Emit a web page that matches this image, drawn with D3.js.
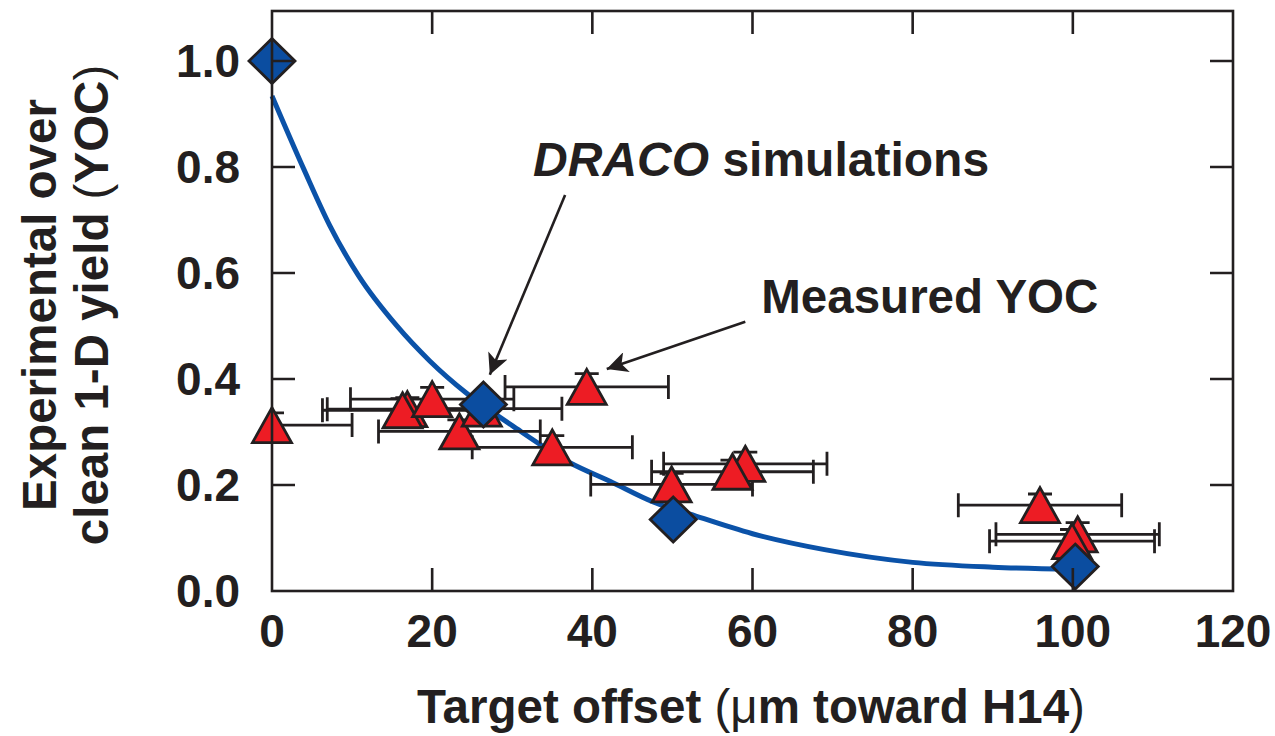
<!DOCTYPE html>
<html>
<head>
<meta charset="utf-8">
<script src="https://cdn.jsdelivr.net/npm/d3@7"></script>
<style>
  body { margin: 0; background: #fff; }
  text { font-family: "Liberation Sans", Arial, sans-serif; fill: #231f20; }
</style>
</head>
<body>
<div id="chart"></div>
<script>
// DRACO simulation points (diamonds)
const simX = [0, 26.4, 50.1, 100.3];
const simY = [1.0, 0.352, 0.135, 0.046];

// fitted curve through the simulations
const curveX = [0, 4, 7.2, 10.8, 15.6, 19.7, 24.3, 30, 37.2, 42.2, 47.6, 52.2, 60, 69, 80, 90, 100];
const curveY = [0.934, 0.795, 0.69, 0.595, 0.50, 0.434, 0.373, 0.312, 0.242, 0.207, 0.168, 0.145, 0.108, 0.078, 0.054, 0.045, 0.041];

// measured YOC (triangles), drawn in this order
const measX    = [0, 23.4, 26.2, 16.9, 16.3, 20.0, 35.0, 39.3, 49.9, 59.1, 57.5, 95.9, 100.6, 99.9];
const measY    = [0.313, 0.301, 0.344, 0.343, 0.341, 0.362, 0.271, 0.385, 0.201, 0.240, 0.225, 0.162, 0.107, 0.094];
const measXErr = [10, 10.1, 10, 10, 10, 10.2, 10, 10.2, 10.1, 10.2, 10.1, 10.2, 10.2, 10.3];
const measYErr = [0.023, 0.022, 0.022, 0.022, 0.022, 0.022, 0.022, 0.025, 0.021, 0.022, 0.022, 0.021, 0.022, 0.022];

const xTicks = [0, 20, 40, 60, 80, 100, 120];
const yTicks = [0, 0.2, 0.4, 0.6, 0.8, 1.0];

const W = 1275, H = 736;
const margin = { top: 11, right: 42, bottom: 145, left: 272 };
const ink = "#231f20";

const x = d3.scaleLinear().domain([0, 120]).range([margin.left, W - margin.right]);
const y = d3.scaleLinear().domain([0, 1.0943]).range([H - margin.bottom, margin.top]);

const svg = d3.select("#chart").append("svg")
    .attr("width", W)
    .attr("height", H);

const x0 = x(0), x1 = x(120), yb = y(0), yt = margin.top;

svg.append("defs").append("clipPath")
    .attr("id", "plot")
    .append("rect")
    .attr("x", x0).attr("y", yt)
    .attr("width", x1 - x0).attr("height", yb - yt);

// curve
const line = d3.line()
    .x((d, i) => x(curveX[i]))
    .y((d, i) => y(curveY[i]))
    .curve(d3.curveMonotoneX);

svg.append("path")
    .datum(curveX)
    .attr("fill", "none")
    .attr("stroke", "#0b52a8")
    .attr("stroke-width", 5)
    .attr("d", line);

// error bars
const meas = measX.map((v, i) => ({ x: v, y: measY[i], ex: measXErr[i], ey: measYErr[i] }));
const eb = svg.append("g")
    .attr("clip-path", "url(#plot)")
    .attr("stroke", ink)
    .attr("stroke-width", 2.8)
    .attr("fill", "none");

meas.forEach(d => {
    const cx = x(d.x), cy = y(d.y);
    const ex0 = x(d.x - d.ex), ex1 = x(d.x + d.ex);
    const ey0 = y(d.y - d.ey), ey1 = y(d.y + d.ey);
    eb.append("path").attr("d",
        `M${ex0},${cy}H${ex1}M${ex0},${cy - 12}V${cy + 12}M${ex1},${cy - 12}V${cy + 12}` +
        `M${cx},${ey0}V${ey1}M${cx - 12},${ey1}H${cx + 12}M${cx - 12},${ey0}H${cx + 12}`);
});

// triangles
svg.append("g").selectAll("path")
    .data(meas)
    .enter()
    .append("path")
    .attr("d", "M0,-17.5L19.5,17.5L-19.5,17.5Z")
    .attr("transform", d => `translate(${x(d.x)},${y(d.y)})`)
    .attr("fill", "#ed1c24")
    .attr("stroke", ink)
    .attr("stroke-width", 2.8)
    .attr("stroke-linejoin", "miter");

// diamonds
svg.append("g").selectAll("path")
    .data(simX)
    .enter()
    .append("path")
    .attr("d", "M0,-22.5L23,0L0,22.5L-23,0Z")
    .attr("transform", (d, i) => `translate(${x(d)},${y(simY[i])})`)
    .attr("fill", "#0b4da0")
    .attr("stroke", ink)
    .attr("stroke-width", 2.8);

// frame and inward ticks on all four sides
const axes = svg.append("g").attr("stroke", ink).attr("stroke-width", 2.6).attr("fill", "none");
axes.append("rect")
    .attr("x", x0).attr("y", yt)
    .attr("width", x1 - x0).attr("height", yb - yt);
const tl = 23;
xTicks.slice(1, -1).forEach(t => {
    axes.append("path").attr("d", `M${x(t)},${yb}V${yb - tl}M${x(t)},${yt}V${yt + tl}`);
});
yTicks.slice(1).forEach(t => {
    axes.append("path").attr("d", `M${x0},${y(t)}H${x0 + tl}M${x1},${y(t)}H${x1 - tl}`);
});

// tick labels
svg.append("g").selectAll("text")
    .data(xTicks)
    .enter()
    .append("text")
    .attr("x", d => x(d))
    .attr("y", yb + 56)
    .attr("text-anchor", "middle")
    .attr("font-size", 46)
    .attr("font-weight", "bold")
    .text(d => d);

svg.append("g").selectAll("text")
    .data(yTicks)
    .enter()
    .append("text")
    .attr("x", x0 - 32)
    .attr("y", d => y(d) + 16)
    .attr("text-anchor", "end")
    .attr("font-size", 46)
    .attr("font-weight", "bold")
    .text(d => d.toFixed(1));

// axis titles
const xt = svg.append("text")
    .attr("x", 751)
    .attr("y", 723)
    .attr("text-anchor", "middle")
    .attr("font-size", 47.5)
    .attr("font-weight", "bold");
xt.append("tspan").text("Target offset ");
xt.append("tspan").attr("font-weight", "normal").text("(");
xt.append("tspan").attr("font-weight", "normal").text("\u03bc");
xt.append("tspan").text("m toward H14");
xt.append("tspan").attr("font-weight", "normal").text(")");

const yt1 = svg.append("text")
    .attr("transform", `translate(56,${(yb + yt) / 2 + 4}) rotate(-90)`)
    .attr("text-anchor", "middle")
    .attr("font-size", 47.5)
    .attr("font-weight", "bold");
yt1.append("tspan").attr("x", 0).attr("dy", 0).text("Experimental over");
const l2 = yt1.append("tspan").attr("x", 0).attr("dy", 52);
l2.append("tspan").text("clean 1-D yield ");
l2.append("tspan").attr("font-weight", "normal").text("(");
l2.append("tspan").text("YOC");
l2.append("tspan").attr("font-weight", "normal").text(")");

// annotations
const lab1 = svg.append("text")
    .attr("x", x(32.6))
    .attr("y", y(0.783))
    .attr("font-size", 48)
    .attr("font-weight", "bold");
lab1.append("tspan").attr("font-style", "italic").text("DRACO");
lab1.append("tspan").text(" simulations");

svg.append("text")
    .attr("x", x(61.1))
    .attr("y", y(0.525))
    .attr("font-size", 47.5)
    .attr("font-weight", "bold")
    .text("Measured YOC");

svg.select("defs").append("marker")
    .attr("id", "head")
    .attr("viewBox", "0 0 10 10")
    .attr("refX", 10).attr("refY", 5)
    .attr("markerWidth", 9).attr("markerHeight", 8)
    .attr("markerUnits", "strokeWidth")
    .attr("orient", "auto")
    .append("path")
    .attr("d", "M0,0L10,5L0,10L2.5,5Z")
    .attr("fill", ink);

const arrows = [
    { x1: 36.6, y1: 0.747, x2: 27.2, y2: 0.408 },
    { x1: 59.1, y1: 0.508, x2: 41.8, y2: 0.419 }
];
svg.append("g").selectAll("line")
    .data(arrows)
    .enter()
    .append("line")
    .attr("x1", d => x(d.x1)).attr("y1", d => y(d.y1))
    .attr("x2", d => x(d.x2)).attr("y2", d => y(d.y2))
    .attr("stroke", ink)
    .attr("stroke-width", 2.6)
    .attr("marker-end", "url(#head)");
</script>
</body>
</html>
